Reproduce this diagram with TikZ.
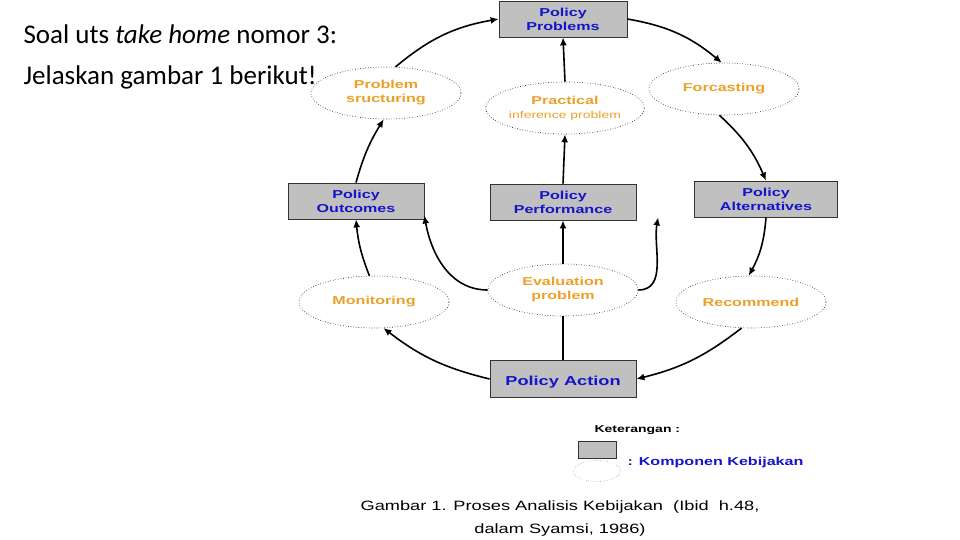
\documentclass[tikz,border=0pt]{standalone}
\usepackage{fontspec}
\setmainfont{Carlito}
\newfontfamily\arialf[FakeStretch=1.4]{Liberation Sans}
\newfontfamily\capf[FakeStretch=1.35]{Liberation Sans}
\usetikzlibrary{shapes.geometric,arrows.meta}
\definecolor{boxgray}{RGB}{192,192,192}
\definecolor{blu}{RGB}{20,20,200}
\definecolor{orn}{RGB}{235,160,40}
\begin{document}
\begin{tikzpicture}[x=1pt,y=-1pt,
  box/.style={draw=black!80,line width=0.8pt,fill=boxgray,minimum width=#1,minimum height=36pt,inner sep=1pt,
    font=\arialf\bfseries\fontsize{11.5}{14}\selectfont,text=blu,align=center},
  ell/.style={draw=black,line width=0.6pt,dotted,ellipse,minimum width=150pt,minimum height=52pt,inner sep=0pt,
    font=\arialf\bfseries\fontsize{11.5}{14}\selectfont,text=orn,align=center},
  arr/.style={draw,line width=1.6pt,-{Latex[length=8pt,width=7pt]}},
  ln/.style={draw,line width=1.6pt}]
\useasboundingbox (0,0) rectangle (960,540);
\node[anchor=west,font=\fontsize{27}{30}\selectfont] (t1) at (20,34) {Soal uts \textit{take home} nomor 3:};
\node[anchor=west,font=\fontsize{27}{30}\selectfont] (t2) at (20,77) {Jelaskan gambar 1 berikut!};

\node[box=128pt] (pp) at (563,19) {Policy\\Problems};
\node[ell] (ps) at (386,93) {Problem\\sructuring};
\node[ell] (pi) at (565,108) {Practical\\{\fontsize{10}{12}\selectfont\mdseries inference problem}};
\node[ell] (fc) at (724,89) {Forcasting};
\node[box=136pt] (po) at (356,201) {Policy\\Outcomes};
\node[box=146pt] (pf) at (563,202) {Policy\\Performance};
\node[box=143pt] (pa) at (766,199) {Policy\\Alternatives};
\node[ell] (mo) at (374,302) {Monitoring};
\node[ell] (ev) at (563,290) {Evaluation\\problem};
\node[ell] (re) at (751,302) {Recommend};
\node[box=146pt,minimum height=37pt,font=\arialf\bfseries\fontsize{13}{15}\selectfont] (ac) at (563,379) {\\Policy Action};

\draw[arr] (ps.70) to[bend left=15] (pp.west);
\draw[arr] (pp.east) to[bend left=15] (fc.95);
\draw[arr] (fc.-100) to[bend left=12] (pa.north);
\draw[arr] (pa.south) to[bend left=12] (re.95);
\draw[arr] (re.-110) to[bend left=12] (ac.east);
\draw[arr] (ac.west) to[bend left=12] (mo.-70);
\draw[arr] (mo.100) to[bend left=8] (po.south);
\draw[arr] (po.north) to[bend left=8] (ps.-95);
\draw[ln] (ac.north) -- (ev.south);
\draw[arr] (ev.north) -- (pf.south);
\draw[arr] (pf.north) -- (pi.south);
\draw[arr] (pi.north) -- (pp.south);
\draw[arr] (ev.west) to[out=180,in=-80] (po.-12);
\draw[arr] (ev.east) to[out=0,in=-100] ([xshift=-36pt]pa.south west);

\node[anchor=west,font=\arialf\bfseries\fontsize{10}{11}\selectfont] (kt) at (591,430) {Keterangan :};
\node[draw=black!80,fill=boxgray,minimum width=38pt,minimum height=17pt,inner sep=0pt] (lb) at (597,450) {};
\node[draw=black!70,dotted,ellipse,minimum width=47pt,minimum height=21pt,inner sep=0pt] (le) at (597,471) {};
\node[anchor=west,font=\arialf\bfseries\fontsize{11.5}{12}\selectfont,text=blu] (kk) at (624,463) {: Komponen Kebijakan};
\node[font=\capf\fontsize{13.5}{15}\selectfont] (c1) at (560,507) {Gambar 1. Proses Analisis Kebijakan \ (Ibid \ h.48,};
\node[font=\capf\fontsize{13.5}{15}\selectfont] (c2) at (560,530) {dalam Syamsi, 1986)};
\end{tikzpicture}
\end{document}
